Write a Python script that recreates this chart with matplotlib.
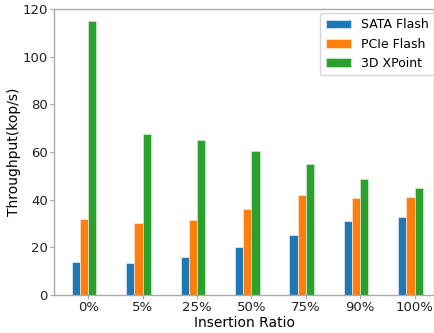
import numpy as np
import matplotlib
matplotlib.use('Agg')
import matplotlib.pyplot as plt

# Values
ratios = ['0%', '5%', '25%', '50%', '75%', '90%', '100%']
sata_flash = [13.7, 13.4, 15.9, 20.0, 25.0, 31.2, 32.6]
pcie_flash = [32.1, 30.1, 31.4, 36.3, 41.8, 40.6, 41.3]
xpoint_3d = [114.8, 67.4, 65.0, 60.6, 54.9, 48.8, 44.9]

x = np.arange(len(ratios))
w = 0.15

fig = plt.figure(figsize=(4.35, 3.33), dpi=100)
ax = fig.add_axes([0.124, 0.114, 0.874, 0.859])

ax.bar(x - 1.5 * w, sata_flash, w, label='SATA Flash', color='#1f77b4', edgecolor='#d8e6f0', linewidth=0.6)
ax.bar(x - 0.5 * w, pcie_flash, w, label='PCIe Flash', color='#ff7f0e', edgecolor='#ffe0c4', linewidth=0.6)
ax.bar(x + 0.5 * w, xpoint_3d, w, label='3D XPoint', color='#2ca02c', edgecolor='#c8e8c8', linewidth=0.6)

ax.set_xlim(-0.63, 6.36)
ax.set_ylim(0, 120)
ax.set_xticks(x)
ax.set_xticklabels(ratios)
ax.set_yticks([0, 20, 40, 60, 80, 100, 120])
ax.tick_params(axis='both', labelsize=9.5, length=3, pad=1.5, color='#aaaaaa', colors='#222222')
for s in ax.spines.values():
    s.set_color('#aaaaaa')
    s.set_linewidth(1.0)

ax.set_xlabel('Insertion Ratio', fontsize=10, labelpad=1)
ax.set_ylabel('Throughput(kop/s)', fontsize=10, labelpad=1)
ax.legend(loc='upper right', fontsize=9, handlelength=2.0, borderpad=0.45, labelspacing=0.5,
          borderaxespad=0.3, bbox_to_anchor=(1.01, 1.0))

plt.savefig('out.png', dpi=100)
